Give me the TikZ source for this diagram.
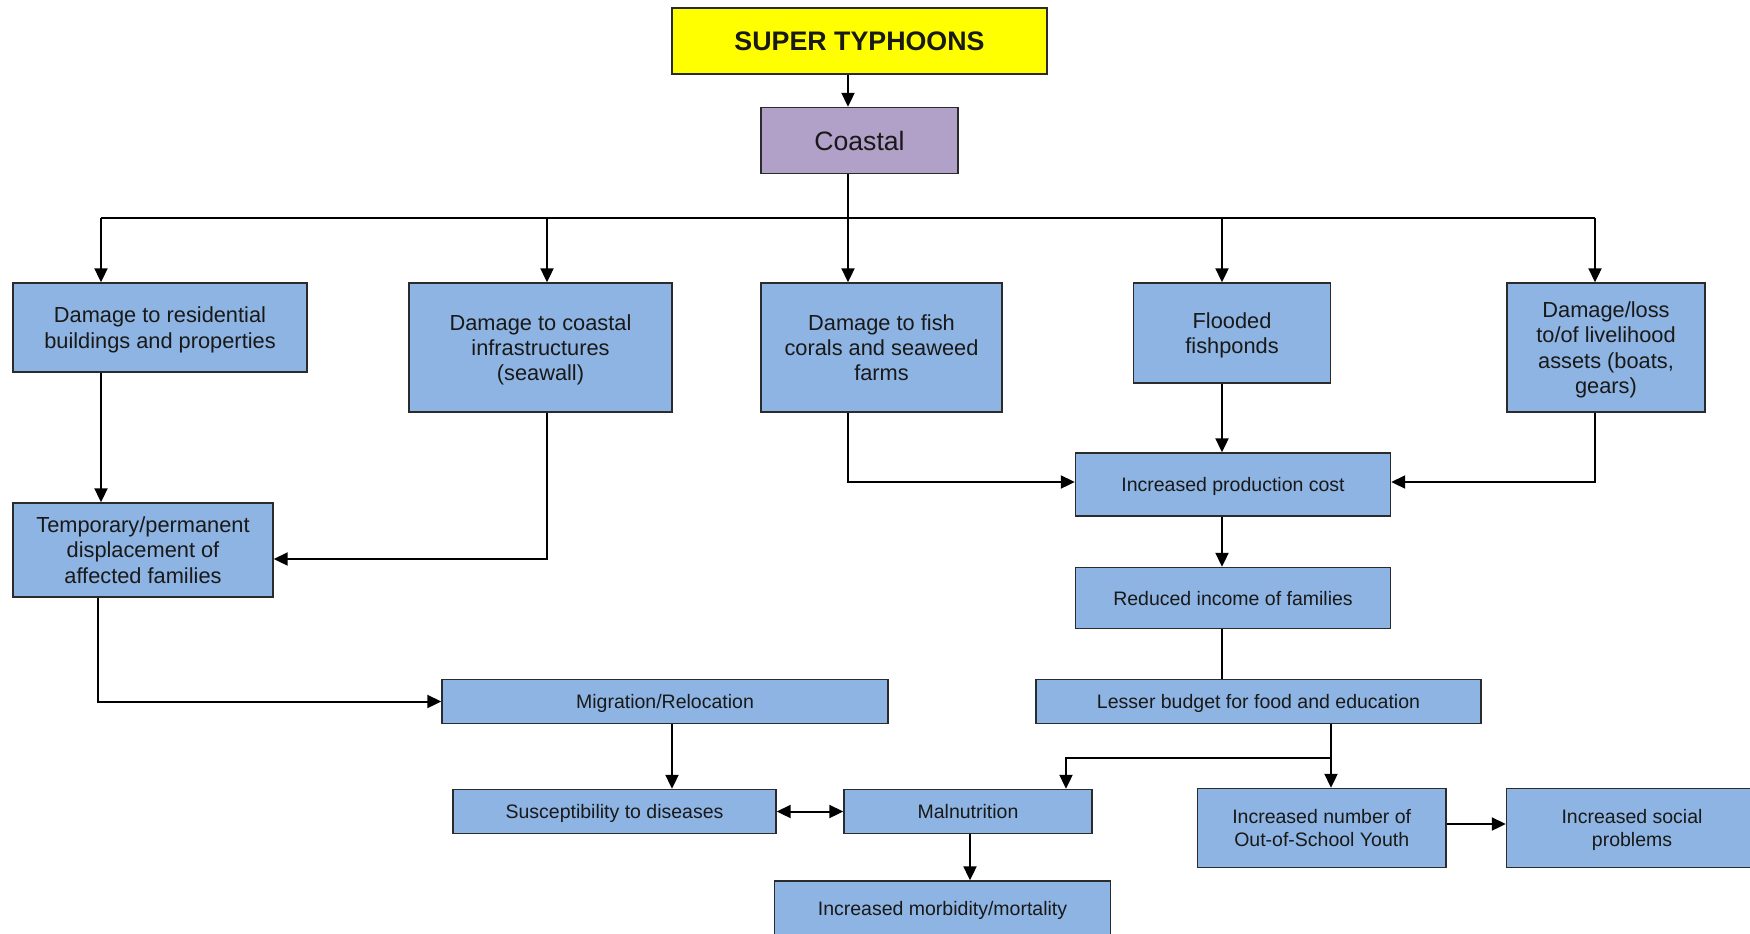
\documentclass[tikz,border=0pt]{standalone}
\usepackage{fontspec}
\setmainfont{Liberation Sans}
\usetikzlibrary{calc,arrows.meta}
\definecolor{boxblue}{HTML}{8DB4E2}
\definecolor{boxpurple}{HTML}{B1A0C7}
\definecolor{boxyellow}{HTML}{FFFF00}
\definecolor{edge}{HTML}{2B2B2B}
\tikzset{
  box/.style={draw=edge, line width=0.7pt, fill=boxblue, inner sep=0pt,
    align=center, text=black!90, text depth=0pt},
  bigtxt/.style={font=\fontsize{10.9}{12.6}\selectfont},
  smalltxt/.style={font=\fontsize{9.75}{11.7}\selectfont},
  link/.style={line width=1pt, draw=black},
  arr/.style={link, -{Triangle[length=7pt,width=6.5pt]}},
  darr/.style={link, {Triangle[length=7pt,width=6.5pt]}-{Triangle[length=7pt,width=6.5pt]}},
}
\begin{document}
\begin{tikzpicture}[x=0.5pt, y=-0.5pt]
  \useasboundingbox (0,0) rectangle (1750,933);
  \fill[white] (0,0) rectangle (1750,933);
  \clip (0,0) rectangle (1750,933);

  % top of the chain
  \node[box, fill=boxyellow, minimum width=187.5pt, minimum height=33pt,
        font=\fontsize{13.4}{15}\selectfont\bfseries] (typh) at (859.5,41) {SUPER TYPHOONS};
  \node[box, fill=boxpurple, minimum width=98.5pt, minimum height=33pt,
        font=\fontsize{13.3}{15}\selectfont] (coastal) at (859.5,140.5) {Coastal};

  % direct impacts
  \node[box, bigtxt, minimum width=147pt, minimum height=44.5pt] (res) at (160,327.5)
    {Damage to residential\\buildings and properties};
  \node[box, bigtxt, minimum width=131.5pt, minimum height=64.5pt] (infra) at (540.5,347.5)
    {Damage to coastal\\infrastructures\\(seawall)};
  \node[box, bigtxt, minimum width=120.5pt, minimum height=64.5pt] (fish) at (881.5,347.5)
    {Damage to fish\\corals and seaweed\\farms};
  \node[box, bigtxt, minimum width=98.5pt, minimum height=50pt] (flood) at (1232,333)
    {Flooded\\fishponds};
  \node[box, bigtxt, minimum width=99pt, minimum height=64.5pt] (loss) at (1606,347.5)
    {Damage/loss\\to/of livelihood\\assets (boats,\\gears)};

  % secondary effects
  \node[box, bigtxt, minimum width=130pt, minimum height=47pt] (temp) at (143,550)
    {Temporary/permanent\\displacement of\\affected families};
  \node[box, smalltxt, minimum width=157.5pt, minimum height=31.5pt] (prod) at (1233,484.5)
    {Increased production cost};
  \node[box, smalltxt, minimum width=157.5pt, minimum height=30.5pt] (income) at (1233,598)
    {Reduced income of families};
  \node[box, smalltxt, minimum width=222.5pt, minimum height=22pt] (budget) at (1258.5,701.5)
    {Lesser budget for food and education};
  \node[box, smalltxt, minimum width=223pt, minimum height=22pt] (migr) at (665,701.5)
    {Migration/Relocation};
  \node[box, smalltxt, minimum width=161.5pt, minimum height=22pt] (susc) at (614.5,811.5)
    {Susceptibility to diseases};
  \node[box, smalltxt, minimum width=124pt, minimum height=22pt] (maln) at (968,811.5)
    {Malnutrition};
  \node[box, smalltxt, minimum width=168pt, minimum height=27pt] (morb) at (942.5,908)
    {Increased morbidity/mortality};
  \node[box, smalltxt, minimum width=124.25pt, minimum height=39.5pt] (osy) at (1321.7,828)
    {Increased number of\\Out-of-School Youth};
  \node[box, smalltxt, minimum width=125.5pt, minimum height=39.5pt] (social) at (1632,828)
    {Increased social\\problems};

  % junction points of the connectors
  \coordinate (b1) at (101,218);
  \coordinate (b2) at (547,218);
  \coordinate (b3) at (848,218);
  \coordinate (b4) at (1222,218);
  \coordinate (b5) at (1595,218);
  \coordinate (t1) at (98,699);
  \coordinate (s1) at (672,750);
  \coordinate (k)  at (1331,758);
  \coordinate (m1) at (1066,758);
  \coordinate (mm) at (970,860);
  \coordinate (pw) at (1000,482);
  \coordinate (oy) at (1400,824);

  % connectors
  \draw[arr] (b3 |- typh.south) -- (b3 |- coastal.north);
  \draw[link] (b3 |- coastal.south) -- (b3);
  \draw[link] (b1) -- (b5);
  \draw[arr] (b1) -- (b1 |- res.north);
  \draw[arr] (b2) -- (b2 |- infra.north);
  \draw[arr] (b3) -- (b3 |- fish.north);
  \draw[arr] (b4) -- (b4 |- flood.north);
  \draw[arr] (b5) -- (b5 |- loss.north);

  \draw[arr] (b1 |- res.south) -- (b1 |- temp.north);
  \draw[arr] (b2 |- infra.south) |- ($(temp.east)+(0,9)$);
  \draw[arr] (t1 |- temp.south) |- (migr.west);

  \draw[arr] (b3 |- fish.south) |- (prod.west |- pw);
  \draw[arr] (b5 |- loss.south) |- (prod.east |- pw);
  \draw[arr] (b4 |- flood.south) -- (b4 |- prod.north);
  \draw[arr] (b4 |- prod.south) -- (b4 |- income.north);
  \draw[link] (b4 |- income.south) -- (b4 |- budget.north);

  \draw[link] (k |- budget.south) -- (k);
  \draw[arr] (k) -- (k |- osy.north);
  \draw[arr] (k) -- (m1) -- (m1 |- maln.north);

  \draw[arr] (s1 |- migr.south) -- (s1 |- susc.north);
  \draw[darr] (susc.east) -- (maln.west);
  \draw[arr] (mm |- maln.south) -- (mm |- morb.north);
  \draw[arr] (osy.east |- oy) -- (social.west |- oy);
\end{tikzpicture}
\end{document}
